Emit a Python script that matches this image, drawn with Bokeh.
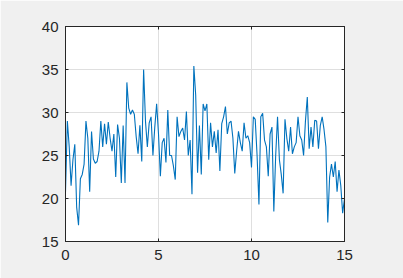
import numpy as np
from bokeh.plotting import figure
from bokeh.models import LinearAxis, Range1d, FixedTicker
from bokeh.embed import file_html
from bokeh.resources import INLINE

signal = [
    20.8, 29.0, 26.0, 21.5, 24.5, 26.3, 19.0, 16.9, 22.3, 22.8,
    24.0, 29.0, 27.0, 20.8, 27.8, 24.6, 24.1, 24.3, 25.5, 29.0,
    26.0, 28.7, 26.3, 28.9, 27.0, 25.5, 27.5, 22.5, 28.6, 27.0,
    21.8, 28.5, 21.8, 33.5, 30.5, 29.8, 30.3, 29.8, 27.2, 25.2,
    28.5, 24.3, 35.0, 29.0, 26.0, 28.8, 29.5, 25.0, 28.3, 31.0,
    27.5, 22.6, 26.5, 27.0, 24.2, 30.3, 25.0, 25.0, 23.8, 22.2,
    29.5, 27.2, 27.8, 28.2, 26.8, 30.1, 25.0, 26.8, 20.5, 35.4,
    32.0, 23.0, 28.5, 22.8, 31.0, 30.2, 31.0, 24.5, 28.8, 26.0,
    27.8, 25.3, 28.0, 23.2, 28.7, 29.5, 30.7, 27.5, 28.8, 29.0,
    27.0, 22.9, 25.5, 27.8, 26.5, 25.5, 28.8, 27.0, 27.3, 26.5,
    23.6, 29.5, 29.2, 25.0, 19.3, 29.5, 29.9, 26.8, 26.0, 22.6,
    27.5, 28.3, 18.5, 25.0, 29.5, 24.5, 22.8, 20.6, 29.2, 27.0,
    25.5, 28.3, 25.2, 26.0, 26.5, 29.5, 27.3, 26.8, 25.0, 29.0,
    31.8, 25.8, 28.3, 26.0, 29.1, 29.0, 25.8, 28.5, 29.5, 28.0,
    26.0, 17.2, 22.5, 24.0, 22.5, 24.3, 20.8, 23.3, 21.5, 18.3,
    20.0,
]
time = np.round(np.arange(len(signal)) * 0.1, 1)

x_ticks = [0, 5, 10, 15]
y_ticks = [15, 20, 25, 30, 35, 40]

AX = "#262626"
FONT = "Liberation Sans"

p = figure(width=403, height=278, output_backend="svg", toolbar_location=None,
           x_range=Range1d(0, 15), y_range=Range1d(15, 40),
           min_border_left=65, min_border_right=59, min_border_top=26, min_border_bottom=37,
           x_axis_location=None, y_axis_location=None)
p.background_fill_color = "white"
p.border_fill_color = "#f0f0f0"
p.outline_line_color = AX
p.outline_line_width = 1

def make_axis(show_labels):
    ax = LinearAxis(ticker=FixedTicker(ticks=[]))
    ax.axis_line_color = AX
    ax.axis_line_width = 1
    ax.major_tick_in = 3
    ax.major_tick_out = 0
    ax.minor_tick_in = 0
    ax.minor_tick_out = 0
    ax.major_tick_line_color = AX
    ax.major_label_text_font = FONT
    ax.major_label_text_font_size = "15px"
    ax.major_label_text_color = AX
    if not show_labels:
        ax.major_label_text_font_size = "0px"
        ax.major_label_text_color = None
    return ax

bx = make_axis(True); bx.ticker = FixedTicker(ticks=x_ticks); bx.major_label_standoff = 8
tx = make_axis(False); tx.ticker = FixedTicker(ticks=x_ticks)
ly = make_axis(True); ly.ticker = FixedTicker(ticks=y_ticks); ly.major_label_standoff = 7
ry = make_axis(False); ry.ticker = FixedTicker(ticks=y_ticks)
p.add_layout(bx, "below")
p.add_layout(tx, "above")
p.add_layout(ly, "left")
p.add_layout(ry, "right")

p.xgrid.ticker = FixedTicker(ticks=x_ticks)
p.ygrid.ticker = FixedTicker(ticks=y_ticks)
for g in (p.xgrid, p.ygrid):
    g.grid_line_color = "#dfdfdf"
    g.grid_line_width = 1

p.line(time, signal, line_color="#0072BD", line_width=1.1)

open("out.html", "w").write(file_html(p, INLINE))
